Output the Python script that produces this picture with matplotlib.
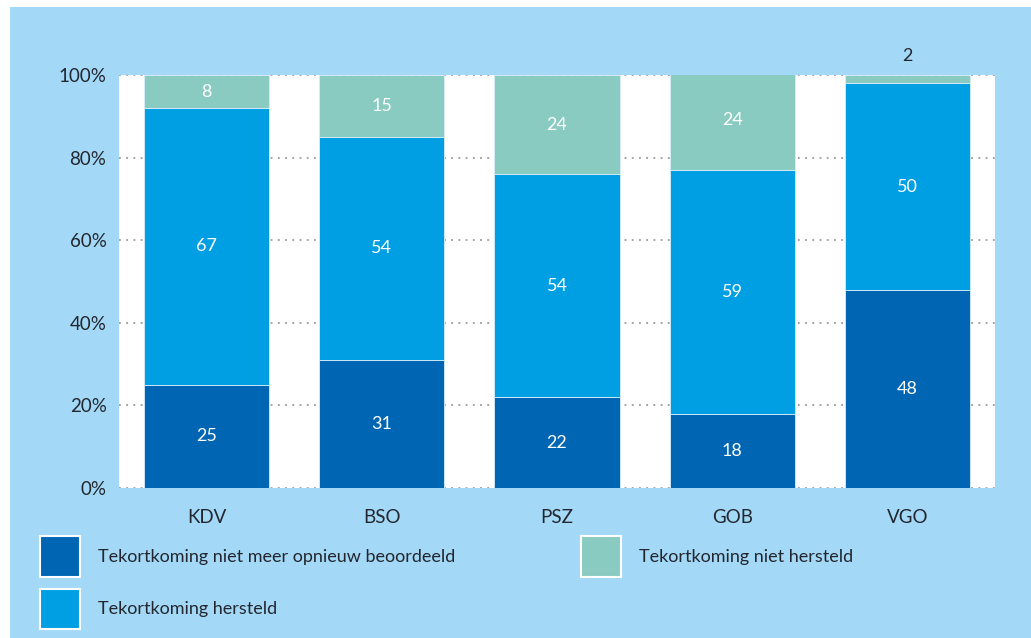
import numpy as np
import matplotlib.pyplot as plt
from matplotlib.patches import Patch, Rectangle

plt.rcParams['font.family'] = ['Lato', 'DejaVu Sans']

cats = ['KDV', 'BSO', 'PSZ', 'GOB', 'VGO']
niet_meer = [25, 31, 22, 18, 48]
hersteld = [67, 54, 54, 59, 50]
niet_hersteld = [8, 15, 24, 24, 2]
labels = ['Tekortkoming niet meer opnieuw beoordeeld',
          'Tekortkoming hersteld',
          'Tekortkoming niet hersteld']

c_dark = '#0066b3'
c_mid = '#009fe3'
c_teal = '#8acbc1'
bg = '#a3d9f6'
txt = '#23262f'

fig = plt.figure(figsize=(10.31, 6.38), dpi=100)
fig.patch.set_facecolor('white')
fig.patches.append(Rectangle((10/1031, 0), 1, 1 - 7/638, transform=fig.transFigure,
                             facecolor=bg, edgecolor='none', zorder=-10))

ax = fig.add_axes([119/1031, 1 - 488/638, 876/1031, 413/638])
ax.set_facecolor('white')
x = np.arange(len(cats))
w = 0.714
edge = dict(edgecolor='#d8eefa', linewidth=0.6)
b1 = ax.bar(x, niet_meer, w, color=c_dark, **edge)
b2 = ax.bar(x, hersteld, w, bottom=niet_meer, color=c_mid, **edge)
bot3 = np.array(niet_meer) + np.array(hersteld)
b3 = ax.bar(x, niet_hersteld, w, bottom=bot3, color=c_teal, **edge)

for bars, vals in [(b1, niet_meer), (b2, hersteld), (b3, niet_hersteld)]:
    for r, v in zip(bars, vals):
        cx = r.get_x() + r.get_width() / 2
        if v < 5:
            # too thin for a label inside, put it above the bar
            ax.text(cx, r.get_y() + r.get_height() + 4.6, str(v), ha='center', va='center',
                    color=txt, fontsize=13, clip_on=False)
        else:
            ax.text(cx, r.get_y() + r.get_height() / 2, str(v), ha='center', va='center',
                    color='white', fontsize=13)

ax.set_xlim(-0.5, 4.5)
ax.set_ylim(0, 100)
ax.set_xticks(x, cats)
ax.set_yticks(range(0, 101, 20), [f'{v}%' for v in range(0, 101, 20)])
ax.tick_params(length=0, labelsize=13.5, colors=txt)
ax.tick_params(axis='y', pad=9)
ax.tick_params(axis='x', pad=15)
for s in ax.spines.values():
    s.set_visible(False)
ax.set_axisbelow(True)
ax.yaxis.grid(True, color='#9a9a9a', linestyle=(0, (1, 3)), linewidth=1.3)

h = [Patch(facecolor=c, edgecolor='white', linewidth=1.5) for c in (c_dark, c_mid, c_teal)]
lkw = dict(frameon=False, fontsize=13, handlelength=2.2, handleheight=3.1,
           handletextpad=1.0, labelspacing=0.65, borderpad=0, borderaxespad=0,
           loc='upper left', labelcolor=txt)
fig.legend(h[:2], labels[:2], bbox_to_anchor=(40/1031, 1 - 536/638), **lkw)
fig.legend(h[2:], labels[2:], bbox_to_anchor=(581/1031, 1 - 536/638), **lkw)

fig.savefig('out.png', dpi=100)
